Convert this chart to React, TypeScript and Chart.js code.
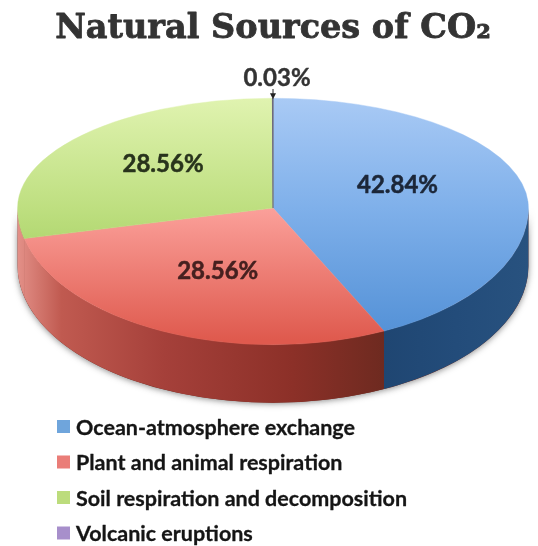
import React, { useEffect, useRef } from "react";
import { Chart, registerables } from "chart.js";

Chart.register(...registerables);

const TITLE = "Natural Sources of CO₂";
const categories = [
  "Ocean-atmosphere exchange",
  "Plant and animal respiration",
  "Soil respiration and decomposition",
  "Volcanic eruptions",
];
const shares = [42.84, 28.56, 28.56, 0.03];
const shareLabels = ["42.84%", "28.56%", "28.56%", "0.03%"];
const legendColors = ["#6fa5dc", "#ea7d78", "#bcdc7c", "#a78fcb"];
const topStops = [
  ["#a9caf5", "#7fb0ea", "#5290d6"],
  ["#ffa9a3", "#fba09a", "#df5a4e"],
  ["#e0f3b0", "#bedf80", "#8fc248"],
  ["#6d6a7c", "#6d6a7c", "#6d6a7c"],
];
const blueWall = ["#1f4672", "#234c7a", "#28527f"];
const redWall = ["#e39088", "#c05a50", "#a5403a", "#8c3028", "#6e2a20"];
const labelColors = ["#1b2638", "#45201f", "#28331c", "#333333"];
const labelReach = [0.5, 0.5, 0.55];

const WIDTH = 538;
const HEIGHT = 546;
const CENTER_Y = 208;
const UPPER_SQUASH = 110 / 256;
const LOWER_SQUASH = 137 / 256;
const DEPTH = 58;
const LABEL_LIFT = [-11, 2, -6];

function squash(ctx: CanvasRenderingContext2D, chartCy: number, k: number) {
  ctx.translate(0, CENTER_Y);
  ctx.scale(1, k);
  ctx.translate(0, -chartCy);
}

function boldText(ctx: CanvasRenderingContext2D, text: string, x: number, y: number, weight: number) {
  ctx.lineWidth = weight;
  ctx.strokeStyle = ctx.fillStyle as string;
  ctx.lineJoin = "round";
  ctx.strokeText(text, x, y);
  ctx.fillText(text, x, y);
}

const pie3d = {
  id: "pie3d",
  beforeDatasetDraw(chart: any) {
    const ctx: CanvasRenderingContext2D = chart.ctx;
    const arcs = chart.getDatasetMeta(0).data;
    const first = arcs[0];
    const rx = first.outerRadius;
    const ry = rx * LOWER_SQUASH;
    const cx = first.x;

    // soft ground shadow under the rim
    ctx.save();
    ctx.shadowColor = "rgba(40,40,40,0.55)";
    ctx.shadowBlur = 6;
    ctx.shadowOffsetY = 1;
    ctx.fillStyle = "#6e2a20";
    ctx.beginPath();
    ctx.ellipse(cx, CENTER_Y, rx, ry, 0, 0, Math.PI);
    ctx.lineTo(cx - rx, CENTER_Y + DEPTH);
    ctx.ellipse(cx, CENTER_Y + DEPTH, rx, ry, 0, Math.PI, 0, true);
    ctx.closePath();
    ctx.fill();
    ctx.restore();

    // rim, one wall per slice, taken from the arc's own angles
    const seamX = cx + rx * Math.cos(arcs[0].endAngle);
    const blue = ctx.createLinearGradient(seamX, 0, cx + rx, 0);
    blueWall.forEach((c, i) => blue.addColorStop(i / (blueWall.length - 1), c));
    const red = ctx.createLinearGradient(cx - rx, 0, seamX, 0);
    red.addColorStop(0, redWall[0]);
    red.addColorStop(0.12, redWall[1]);
    red.addColorStop(0.4, redWall[2]);
    red.addColorStop(0.75, redWall[3]);
    red.addColorStop(1, redWall[4]);
    arcs.forEach((arc: any, i: number) => {
      const a = Math.max(arc.startAngle, 0);
      const b = Math.min(arc.endAngle, Math.PI);
      if (b <= a) return;
      ctx.fillStyle = i === 0 ? blue : red;
      ctx.beginPath();
      ctx.ellipse(cx, CENTER_Y, rx, ry, 0, a, b);
      ctx.ellipse(cx, CENTER_Y + DEPTH, rx, ry, 0, b, a, true);
      ctx.closePath();
      ctx.fill();
    });

    ctx.save();
    ctx.beginPath();
    ctx.rect(0, 0, WIDTH, CENTER_Y);
    ctx.clip();
    squash(ctx, first.y, UPPER_SQUASH);
  },
  afterDatasetDraw(chart: any) {
    const ctx: CanvasRenderingContext2D = chart.ctx;
    const meta = chart.getDatasetMeta(0);
    ctx.restore();
    ctx.save();
    ctx.beginPath();
    ctx.rect(0, CENTER_Y, WIDTH, HEIGHT - CENTER_Y);
    ctx.clip();
    squash(ctx, meta.data[0].y, LOWER_SQUASH);
    meta.controller.draw();
    ctx.restore();
  },
  afterDraw(chart: any) {
    const ctx: CanvasRenderingContext2D = chart.ctx;
    const arcs = chart.getDatasetMeta(0).data;
    const cx = arcs[0].x;
    const rx = arcs[0].outerRadius;

    ctx.save();
    ctx.textBaseline = "middle";
    ctx.textAlign = "center";
    ctx.fillStyle = "#333333";
    ctx.font = 'bold 33.5px "DejaVu Serif"';
    boldText(ctx, TITLE, 273, 29, 0.8);

    // slice labels
    ctx.font = 'bold 24px "Lato"';
    arcs.slice(0, 3).forEach((arc: any, i: number) => {
      const mid = (arc.startAngle + arc.endAngle) / 2;
      const k = Math.sin(mid) < 0 ? UPPER_SQUASH : LOWER_SQUASH;
      const x = cx + rx * labelReach[i] * Math.cos(mid);
      const y = CENTER_Y + rx * k * labelReach[i] * Math.sin(mid) + LABEL_LIFT[i];
      ctx.fillStyle = labelColors[i];
      boldText(ctx, shareLabels[i], x, y, 0.5);
    });

    // outside label with its pointer
    ctx.fillStyle = labelColors[3];
    boldText(ctx, shareLabels[3], 277, 78, 0.4);
    const tipY = CENTER_Y - rx * UPPER_SQUASH;
    ctx.strokeStyle = "#222222";
    ctx.fillStyle = "#222222";
    ctx.lineWidth = 1;
    ctx.beginPath();
    ctx.moveTo(cx, 89);
    ctx.lineTo(cx, tipY - 3);
    ctx.stroke();
    ctx.beginPath();
    ctx.moveTo(cx - 3, tipY - 5);
    ctx.lineTo(cx + 3, tipY - 5);
    ctx.lineTo(cx, tipY + 1);
    ctx.closePath();
    ctx.fill();

    // legend
    ctx.textAlign = "left";
    ctx.font = 'bold 21.5px "Lato"';
    categories.forEach((name, i) => {
      const y = 428 + i * 35.5;
      ctx.fillStyle = legendColors[i];
      ctx.fillRect(57, y - 8, 13, 13);
      ctx.fillStyle = "#151515";
      boldText(ctx, name, 76, y, 0.3);
    });
    ctx.restore();
  },
};

export default function App() {
  const ref = useRef<HTMLCanvasElement>(null);
  useEffect(() => {
    if (!ref.current) return;
    const fill = (c: any) => {
      const stops = topStops[c.dataIndex] ?? topStops[0];
      const area = c.chart.chartArea;
      if (!area) return stops[1];
      const g = c.chart.ctx.createLinearGradient(0, area.top, 0, area.bottom);
      g.addColorStop(0, stops[0]);
      g.addColorStop(0.5, stops[1]);
      g.addColorStop(0.98, stops[2]);
      return g;
    };
    const chart = new Chart(ref.current, {
      type: "pie",
      data: {
        labels: categories,
        datasets: [
          {
            data: shares,
            backgroundColor: fill,
            borderColor: fill,
            borderWidth: [0.6, 0.6, 0.6, 1.2],
            clip: false,
          } as any,
        ],
      },
      options: {
        responsive: false,
        animation: false,
        layout: { padding: { left: 17, right: 9, top: 17, bottom: 17 } },
        plugins: { legend: { display: false }, tooltip: { enabled: false }, title: { display: false } },
      },
      plugins: [pie3d],
    });
    return () => chart.destroy();
  }, []);
  return (
    <div style={{ position: "absolute", left: 0, top: 0, width: WIDTH, height: HEIGHT, background: "#fff" }}>
      <canvas ref={ref} width={WIDTH} height={HEIGHT} style={{ display: "block" }} />
    </div>
  );
}
